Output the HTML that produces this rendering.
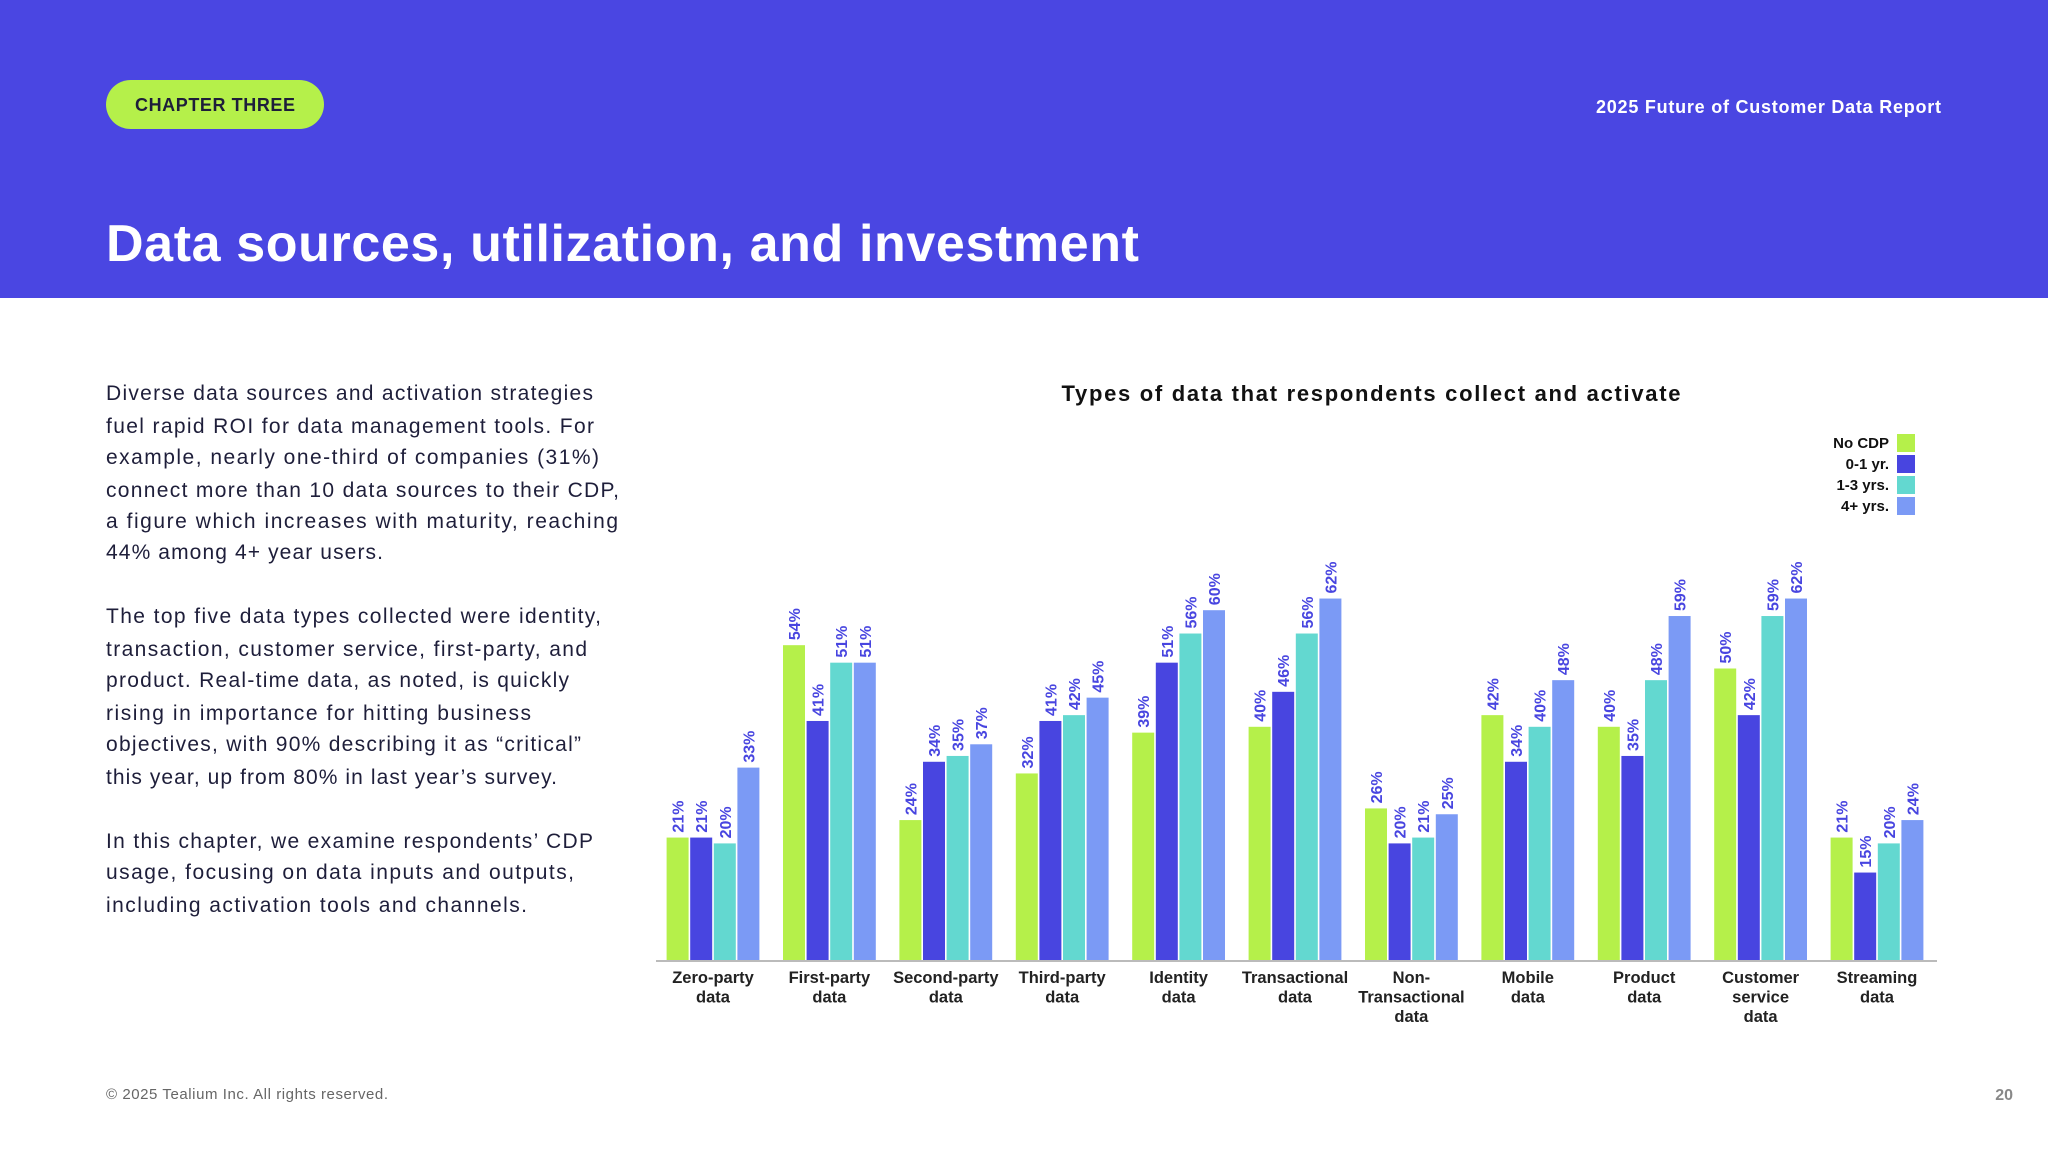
<!DOCTYPE html>
<html><head><meta charset="utf-8"><style>
html,body{margin:0;padding:0;background:#fff}
svg{display:block}
text{font-family:"Liberation Sans",sans-serif}
</style></head><body>
<svg id="page" width="2048" height="1152" viewBox="0 0 2048 1152">
<rect x="0" y="0" width="2048" height="298" fill="#4a46e2"/>
<rect x="106" y="80" width="218" height="49" rx="24.5" fill="#b5f04a"/>
<text x="215" y="111" text-anchor="middle" font-size="18" font-weight="bold" fill="#1e1e3a" textLength="160">CHAPTER THREE</text>
<text x="1941" y="113" text-anchor="end" font-size="18" font-weight="bold" fill="#fff" textLength="345">2025 Future of Customer Data Report</text>
<text x="106" y="261" font-size="52" font-weight="bold" fill="#fff" textLength="1033">Data sources, utilization, and investment</text>
<g font-size="21" fill="#1e1e3a">
<text x="106" y="400" textLength="487">Diverse data sources and activation strategies</text>
<text x="106" y="433" textLength="488">fuel rapid ROI for data management tools. For</text>
<text x="106" y="464" textLength="493">example, nearly one-third of companies (31%)</text>
<text x="106" y="497" textLength="513">connect more than 10 data sources to their CDP,</text>
<text x="106" y="528" textLength="512">a figure which increases with maturity, reaching</text>
<text x="106" y="559" textLength="277">44% among 4+ year users.</text>
<text x="106" y="623" textLength="495">The top five data types collected were identity,</text>
<text x="106" y="656" textLength="481">transaction, customer service, first-party, and</text>
<text x="106" y="687" textLength="463">product. Real-time data, as noted, is quickly</text>
<text x="106" y="720" textLength="425">rising in importance for hitting business</text>
<text x="106" y="751" textLength="475">objectives, with 90% describing it as “critical”</text>
<text x="106" y="784" textLength="451">this year, up from 80% in last year’s survey.</text>
<text x="106" y="848" textLength="487">In this chapter, we examine respondents’ CDP</text>
<text x="106" y="879" textLength="468">usage, focusing on data inputs and outputs,</text>
<text x="106" y="912" textLength="421">including activation tools and channels.</text>
</g>
<text x="1371" y="401" text-anchor="middle" font-size="22" font-weight="bold" fill="#111" textLength="619">Types of data that respondents collect and activate</text>
<g id="legend"></g>
<g id="chart"></g>
<text x="106" y="1099" font-size="15" fill="#666" textLength="282">© 2025 Tealium Inc. All rights reserved.</text>
<text x="2013" y="1100" text-anchor="end" font-size="16" font-weight="bold" fill="#888">20</text>
</svg>
<script>
const categories = [["Zero-party","data"],["First-party","data"],["Second-party","data"],["Third-party","data"],["Identity","data"],["Transactional","data"],["Non-","Transactional","data"],["Mobile","data"],["Product","data"],["Customer","service","data"],["Streaming","data"]];
const seriesNames = ["No CDP","0-1 yr.","1-3 yrs.","4+ yrs."];
const noCdp = [21,54,24,32,39,40,26,42,40,50,21];
const yr01 = [21,41,34,41,51,46,20,34,35,42,15];
const yr13 = [20,51,35,42,56,56,21,40,48,59,20];
const yr4p = [33,51,37,45,60,62,25,48,59,62,24];
const series = [noCdp,yr01,yr13,yr4p];
const colors = ["#b5f04a","#4845e0","#63d8d0","#7b9af5"];
const NS="http://www.w3.org/2000/svg";
const chart=document.getElementById('chart');
const legend=document.getElementById('legend');
const baseY=960, pxPer=5.83, x0=713, gStep=116.4, bw=22, bStep=23.6;
function yScale(v){return baseY - v*pxPer;}
function xCenter(i){return x0 + i*gStep;}
function mk(tag,attrs,parent){const e=document.createElementNS(NS,tag);for(const k in attrs)e.setAttribute(k,attrs[k]);parent.appendChild(e);return e;}
categories.forEach((cat,i)=>{
  series.forEach((s,j)=>{
    const v=s[i];
    const x=xCenter(i)-2*bStep+j*bStep+(bStep-bw)/2;
    const r=mk('rect',{x:x,y:yScale(v),width:bw,height:baseY-yScale(v),fill:colors[j]},chart);
    
    
    const tx=x+bw/2+6, ty=yScale(v)-5;
    const t=mk('text',{x:tx,y:ty,transform:'rotate(-90 '+tx+' '+ty+')','font-size':'16','font-weight':'bold',fill:'#4845e0'},chart);
    t.textContent=v+'%';
    
    
  });
  cat.forEach((ln,k)=>{
    const t=mk('text',{x:xCenter(i),y:983+k*19.5,'text-anchor':'middle','font-size':'16.5','font-weight':'bold',fill:'#222'},chart);
    t.textContent=ln;
    
    
  });
});
const ax=mk('line',{x1:656,x2:1937,y1:baseY+1,y2:baseY+1,stroke:'#bbb','stroke-width':2},chart);


seriesNames.forEach((n,j)=>{
  const y=434+j*21;
  const r=mk('rect',{x:1897,y:y,width:18,height:18,fill:colors[j]},legend);
  
  
  const t=mk('text',{x:1889,y:y+14,'text-anchor':'end','font-size':'15','font-weight':'bold',fill:'#111'},legend);
  t.textContent=n;
  
  
});
</script>
</body></html>
